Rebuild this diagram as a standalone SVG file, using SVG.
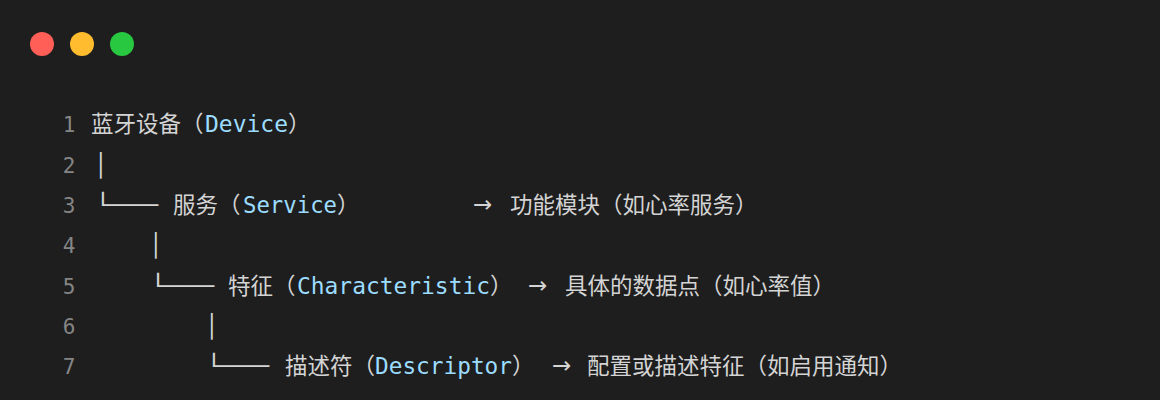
<svg xmlns="http://www.w3.org/2000/svg" width="1160" height="400" viewBox="0 0 1160 400">
<style>
.ln{font-family:"DejaVu Sans Mono","Liberation Mono",monospace;font-size:21px;fill:#858585;text-anchor:middle}
.t{font-family:"Noto Sans CJK SC","Noto Sans",sans-serif;font-size:22.5px;fill:#d4d4d4}
.m{font-family:"DejaVu Sans Mono","Liberation Mono",monospace;font-size:22.5px;fill:#d4d4d4}
.a{font-family:"DejaVu Sans","Noto Sans",sans-serif;font-size:23px;fill:#d4d4d4}
.id{font-family:"DejaVu Sans Mono","Liberation Mono",monospace;font-size:22.5px;fill:#9cdcfe}
</style>
<rect x="0" y="0" width="1160" height="400" fill="#1e1e1e"/>
<g id="window-buttons">
<circle cx="42" cy="44" r="12" fill="#ff5f57"/>
<circle cx="82" cy="44" r="12" fill="#febc2e"/>
<circle cx="122" cy="44" r="12" fill="#28c840"/>
</g>
<g id="line-numbers">
<text class="ln" x="69" y="132">1</text>
<text class="ln" x="69" y="172.5">2</text>
<text class="ln" x="69" y="212.5">3</text>
<text class="ln" x="69" y="253">4</text>
<text class="ln" x="69" y="293.5">5</text>
<text class="ln" x="69" y="334">6</text>
<text class="ln" x="69" y="374">7</text>
</g>
<g id="line1">
<text class="t" x="91" y="132">蓝牙设备（</text>
<text class="id" x="205" y="132" textLength="83" lengthAdjust="spacingAndGlyphs">Device</text>
<text class="t" x="288" y="132">）</text>
</g>
<g id="line2">
<text class="m" x="94" y="172.5">│</text>
</g>
<g id="line3">
<text class="m" x="95" y="212.5" textLength="63" lengthAdjust="spacingAndGlyphs">└───</text>
<text class="t" x="173" y="212.5">服务（</text>
<text class="id" x="243" y="212.5" textLength="94" lengthAdjust="spacingAndGlyphs">Service</text>
<text class="t" x="337" y="212.5">）</text>
<text class="a" x="473" y="211.5">→</text>
<text class="t" x="510" y="212.5">功能模块（如心率服务）</text>
</g>
<g id="line4">
<text class="m" x="149" y="253">│</text>
</g>
<g id="line5">
<text class="m" x="150" y="293.5" textLength="64" lengthAdjust="spacingAndGlyphs">└───</text>
<text class="t" x="228" y="293.5">特征（</text>
<text class="id" x="297" y="293.5" textLength="193" lengthAdjust="spacingAndGlyphs">Characteristic</text>
<text class="t" x="490" y="293.5">）</text>
<text class="a" x="528" y="292.5">→</text>
<text class="t" x="565" y="293.5">具体的数据点（如心率值）</text>
</g>
<g id="line6">
<text class="m" x="205" y="334">│</text>
</g>
<g id="line7">
<text class="m" x="206" y="374" textLength="63" lengthAdjust="spacingAndGlyphs">└───</text>
<text class="t" x="285" y="374">描述符（</text>
<text class="id" x="375" y="374" textLength="137" lengthAdjust="spacingAndGlyphs">Descriptor</text>
<text class="t" x="512" y="374">）</text>
<text class="a" x="552" y="373">→</text>
<text class="t" x="587" y="374">配置或描述特征（如启用通知）</text>
</g>
</svg>
